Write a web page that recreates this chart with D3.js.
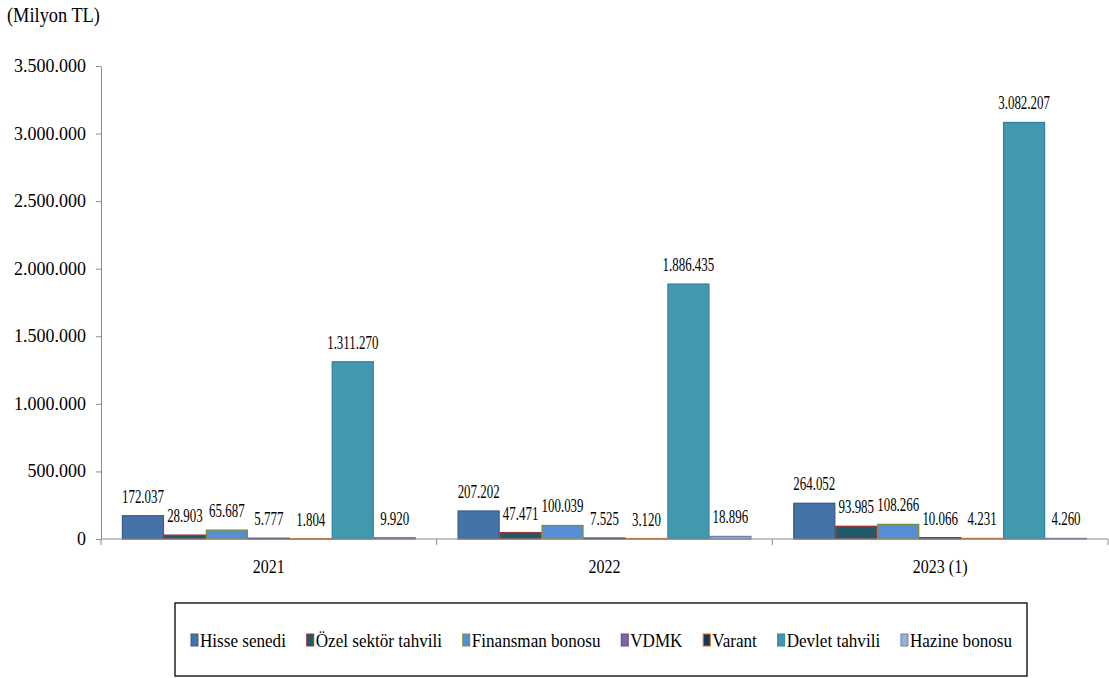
<!DOCTYPE html>
<html><head><meta charset="utf-8">
<script src="https://cdn.jsdelivr.net/npm/d3@7"></script>
<style>
body{margin:0;background:#fff;}
svg{display:block;}
</style></head>
<body><svg id="c" width="1109" height="678"></svg>
<script>
const categories = ["2021", "2022", "2023 (1)"];
const seriesNames = ["Hisse senedi", "Özel sektör tahvili", "Finansman bonosu", "VDMK", "Varant", "Devlet tahvili", "Hazine bonosu"];
const hisse = [172037, 207202, 264052];
const ozel = [28903, 47471, 93985];
const finansman = [65687, 100039, 108266];
const vdmk = [5777, 7525, 10066];
const varant = [1804, 3120, 4231];
const devlet = [1311270, 1886435, 3082207];
const hazine = [9920, 18896, 4260];
const yTicks = [0, 500000, 1000000, 1500000, 2000000, 2500000, 3000000, 3500000];
const fills = ["#4572a7", "#215968", "#558ed5", "#8064a2", "#17375e", "#4198af", "#95b3d7"];
const strokes = ["#385d8a", "#953735", "#77933c", "#5f497a", "#e46c0a", "#31859c", "#6c7fa8"];
const unitLabel = "(Milyon TL)";

(function() {
const values = [hisse, ozel, finansman, vdmk, varant, devlet, hazine];
const loc = d3.formatLocale({decimal: ",", thousands: ".", grouping: [3], currency: ["", ""]});
const fmt = loc.format(",d");

const cv = document.createElement("canvas").getContext("2d");
function has(f) {
  const s = "Hisse 172.037 Milyon";
  cv.font = "40px monospace"; const a = cv.measureText(s).width;
  cv.font = `40px "${f}", monospace`; const b = cv.measureText(s).width;
  return Math.abs(a - b) > 0.5;
}
const cands = ["Liberation Serif", "Times New Roman", "Tinos", "DejaVu Serif", "Noto Serif", "FreeSerif", "Nimbus Roman", "Times"];
const found = cands.find(has);
const FF = found ? `"${found}", serif` : "serif";

const svg = d3.select("#c");
const pLeft = 101, pRight = 1108, pTop = 66, pBottom = 539;

// horizontal scale factor so that a sample string has the reference width
function kFor(sample, size, targetW) {
  const t = svg.append("text").style("font-family", FF).attr("font-size", size).text(sample);
  const w = t.node().getComputedTextLength();
  t.remove();
  return targetW / w;
}
const kTitle = kFor("(Milyon TL)", 20, 93);
const kAxis = kFor("3.500.000", 19, 72);
const kLab = kFor("172.037", 18, 42);
const kCat = kFor("2021", 19, 32);
const kLeg = kFor("Hisse senedi", 19, 86);

const y = d3.scaleLinear().domain([0, 3500000]).range([pBottom, pTop]);
const x0 = d3.scaleBand().domain(categories).range([pLeft, pRight]).padding(0);
const bw = x0.bandwidth();
const x1 = d3.scaleBand().domain(d3.range(seriesNames.length)).range([bw * 0.0625, bw * 0.9375]).padding(0);

function sx(sel, k) {
  sel.style("font-family", FF).attr("fill", "#000").attr("transform", function() {
    const x = +this.getAttribute("data-x"), yy = +this.getAttribute("data-y");
    return `translate(${x},${yy}) scale(${k},1)`;
  });
}

// title
svg.append("text").attr("data-x", 7).attr("data-y", 22).attr("font-size", 20)
  .text(unitLabel).call(sx, kTitle);

// y axis
const ya = svg.append("g").attr("transform", `translate(${pLeft},0)`)
  .call(d3.axisLeft(y).tickValues(yTicks).tickFormat(fmt).tickSize(5).tickSizeOuter(0));
ya.select(".domain").attr("stroke", "#8c8c8c");
ya.selectAll(".tick line").attr("stroke", "#8c8c8c");
ya.selectAll(".tick text").remove();
svg.append("g").selectAll("text").data(yTicks).join("text")
  .attr("data-x", pLeft - 15).attr("data-y", d => y(d) + 6)
  .attr("text-anchor", "end").attr("font-size", 19).text(d => fmt(d)).call(sx, kAxis);

// bars
const g = svg.append("g").selectAll("g").data(categories).join("g")
  .attr("transform", d => `translate(${x0(d)},0)`);
g.each(function(cat, ci) {
  const gg = d3.select(this);
  seriesNames.forEach((s, si) => {
    const v = values[si][ci];
    gg.append("rect")
      .attr("x", x1(si) + 0.5).attr("y", y(v))
      .attr("width", x1.bandwidth() - 1).attr("height", Math.max(0.5, pBottom - y(v)))
      .attr("fill", fills[si]).attr("stroke", strokes[si]).attr("stroke-width", 1.3);
  });
});
// value labels
g.each(function(cat, ci) {
  const gg = d3.select(this);
  seriesNames.forEach((s, si) => {
    const v = values[si][ci];
    gg.append("text")
      .attr("data-x", x1(si) + x1.bandwidth() / 2).attr("data-y", y(v) - 13)
      .attr("text-anchor", "middle").attr("font-size", 18).text(fmt(v)).call(sx, kLab);
  });
});

// x axis
const xa = svg.append("g").attr("transform", `translate(0,${pBottom})`);
xa.append("line").attr("x1", pLeft).attr("x2", pRight).attr("y1", 0).attr("y2", 0).attr("stroke", "#8c8c8c");
const bounds = categories.map(c => x0(c)).concat([pRight]);
xa.selectAll("line.t").data(bounds).join("line").attr("class", "t")
  .attr("x1", d => d).attr("x2", d => d).attr("y1", 0).attr("y2", 6).attr("stroke", "#8c8c8c");
svg.append("g").selectAll("text").data(categories).join("text")
  .attr("data-x", d => x0(d) + bw / 2).attr("data-y", pBottom + 34)
  .attr("text-anchor", "middle").attr("font-size", 19).text(d => d).call(sx, kCat);

// legend
const lg = svg.append("g");
lg.append("rect").attr("x", 175).attr("y", 603).attr("width", 852).attr("height", 73)
  .attr("fill", "#fff").attr("stroke", "#000").attr("stroke-width", 1.3);
const items = lg.selectAll("g").data(seriesNames).join("g");
items.append("rect").attr("x", 0).attr("y", -6).attr("width", 7).attr("height", 12)
  .attr("fill", (d, i) => fills[i]).attr("stroke", (d, i) => strokes[i]).attr("stroke-width", 1);
items.append("text").attr("data-x", 9).attr("data-y", 6.5).attr("font-size", 19).text(d => d).call(sx, kLeg);
let widths = [];
items.select("text").each(function() { widths.push(this.getComputedTextLength() * kLeg + 9); });
const totalText = d3.sum(widths);
const gap = (821 - totalText) / (widths.length - 1);
let cx = 191;
items.attr("transform", (d, i) => { const t = `translate(${cx},640)`; cx += widths[i] + gap; return t; });
})();
</script></body></html>
